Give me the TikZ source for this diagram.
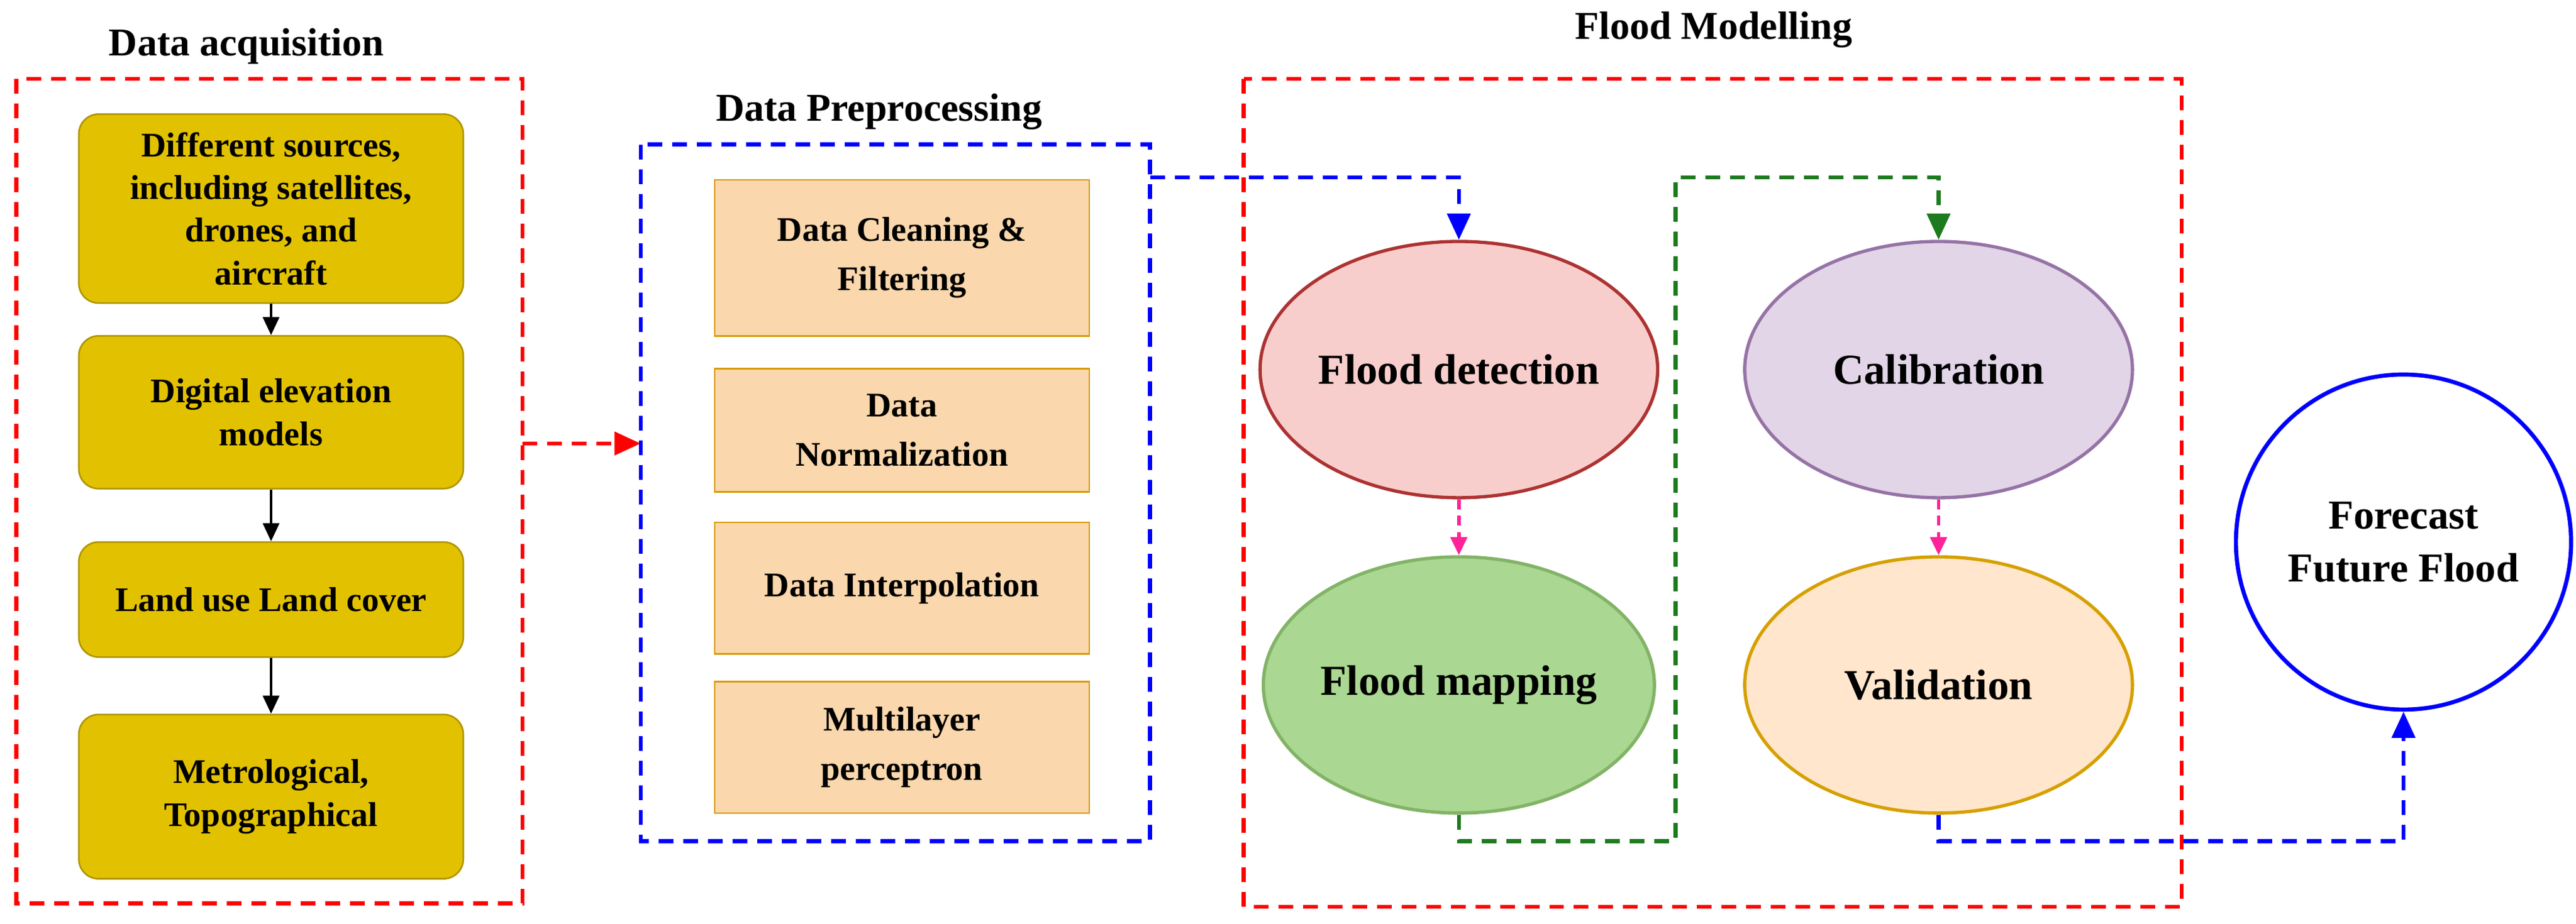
\documentclass[tikz,border=0pt]{standalone}
\usepackage{fontspec}
\setmainfont{Liberation Serif}
\usetikzlibrary{arrows.meta,shapes.geometric}
\definecolor{gold}{HTML}{E2C200}
\definecolor{goldd}{HTML}{B09500}
\definecolor{org}{HTML}{FAD7AC}
\definecolor{orgd}{HTML}{D79B00}
\definecolor{pinkk}{HTML}{FF2299}
\definecolor{dgreen}{HTML}{1E7A1E}
\tikzset{
 dl/.style={line width=2.5pt,dash pattern=on 9pt off 6pt},
 title/.style={font=\fontsize{24}{28}\selectfont\bfseries},
 gbox/.style={draw=goldd,fill=gold,rounded corners=12pt,line width=1pt,minimum width=234pt,align=center,font=\fontsize{21}{26}\selectfont\bfseries},
 obox/.style={draw=orgd,fill=org,line width=1pt,minimum width=228pt,align=center,font=\fontsize{21}{30}\selectfont\bfseries},
 ell/.style={ellipse,inner sep=0pt,line width=2pt,minimum width=236pt,minimum height=156pt,font=\fontsize{26}{30}\selectfont\bfseries},
 tip/.style={-{Triangle[length=16pt,width=14pt]}},
 stip/.style={-{Triangle[length=11pt,width=10pt]}}
}
\begin{document}
\begin{tikzpicture}[x=1pt,y=-1pt]
\useasboundingbox (0,0) rectangle (1568,562.5);
% Data acquisition
\node[title] (t1) at (150,28) {Data acquisition};
\draw[dl,red] (10,48) rectangle (318,550);
\node[gbox,minimum height=115pt,inner sep=1pt] (g1) at (165,127) {Different sources,\\including satellites,\\drones, and\\aircraft};
\node[gbox,minimum height=93pt] (g2) at (165,251) {Digital elevation\\models};
\node[gbox,minimum height=70pt] (g3) at (165,365) {Land use Land cover};
\node[gbox,minimum height=100pt] (g4) at (165,485) {Metrological,\\Topographical};
\draw[stip,line width=1.2pt] (g1) -- (g2);
\draw[stip,line width=1.2pt] (g2) -- (g3);
\draw[stip,line width=1.2pt] (g3) -- (g4);
\coordinate (ra) at (318,270);
\coordinate (rb) at (390,270);
\draw[dl,red,tip] (ra) -- (rb);
% Preprocessing
\node[title] (t2) at (535,68) {Data Preprocessing};
\draw[dl,blue] (390,88) rectangle (700,512);
\node[obox,minimum height=95pt] (o1) at (549,157) {Data Cleaning \&\\Filtering};
\node[obox,minimum height=75pt] (o2) at (549,262) {Data\\Normalization};
\node[obox,minimum height=80pt] (o3) at (549,358) {Data Interpolation};
\node[obox,minimum height=80pt] (o4) at (549,455) {Multilayer\\perceptron};
% Flood modelling
\node[title] (t3) at (1043,18) {Flood Modelling};
\draw[dl,red] (757,48) rectangle (1328,552);
\node[ell,draw=red!60!black!80,fill={rgb,255:red,248;green,206;blue,204}] (fd) at (888,225) {Flood detection};
\node[ell,draw={rgb,255:red,130;green,179;blue,102},fill={rgb,255:red,170;green,215;blue,145}] (fm) at (888,417) {Flood mapping};
\node[ell,draw={rgb,255:red,150;green,115;blue,166},fill={rgb,255:red,225;green,213;blue,231}] (ca) at (1180,225) {Calibration};
\node[ell,draw={rgb,255:red,214;green,160;blue,0},fill={rgb,255:red,255;green,230;blue,204}] (va) at (1180,417) {Validation};
\draw[pinkk,line width=2pt,dash pattern=on 6pt off 4pt,stip] (fd) -- (fm);
\draw[pinkk,line width=2pt,dash pattern=on 6pt off 4pt,stip] (ca) -- (va);
\coordinate (bp) at (700,108);
\draw[dl,blue,tip] (bp) -| (fd.north);
\draw[dl,dgreen,tip] (fm.south) |- (1020,512) |- (1180,108) -- (ca.north);
\node[circle,draw=blue,line width=2.5pt,minimum size=204pt,align=center,font=\fontsize{25}{32}\selectfont\bfseries] (fc) at (1463,330) {Forecast\\Future Flood};
\draw[dl,blue,tip] (va.south) |- (fc.south |- 0,512) -- (fc.south);
\end{tikzpicture}
\end{document}
